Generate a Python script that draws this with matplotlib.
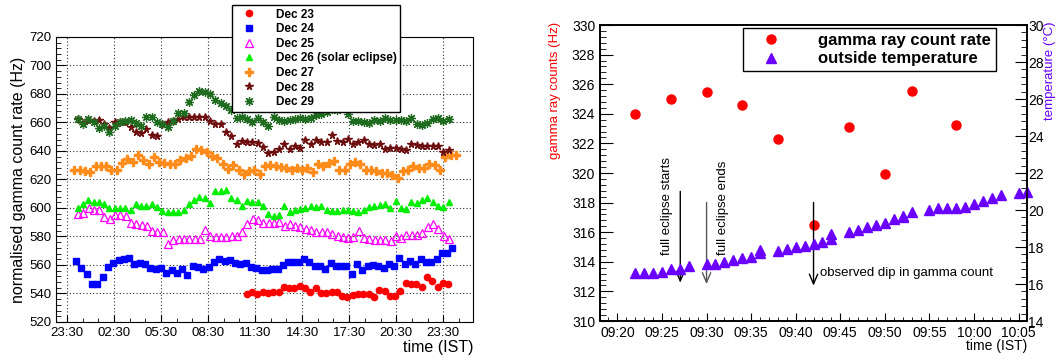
import numpy as np
import matplotlib
matplotlib.use("Agg")
import matplotlib.pyplot as plt
from matplotlib.ticker import MultipleLocator, FuncFormatter

plt.rcParams['font.family'] = ['Liberation Sans', 'DejaVu Sans']

# ---- left panel data: normalised gamma count rate (Hz), ~20 min bins
STEP = 0.338  # hours per bin
dec23_start = 10.97
dec23 = [539.9, 541.0, 539.4, 541.0, 540.6, 541.0, 541.3, 544.6, 544.1, 544.1,
         545.0, 544.1, 541.0, 544.1, 540.4, 540.4, 540.8, 541.0, 538.2, 537.5,
         538.7, 539.9, 539.4, 539.4, 537.5, 542.7, 541.7, 538.2, 538.2, 541.7,
         547.6, 546.9, 546.7, 544.6, 551.6, 548.5, 544.6, 547.4, 546.9]
dec24_start = 0.09
dec24 = [562.6, 557.9, 553.7, 546.9, 546.7, 551.6, 558.6, 561.6, 563.3, 564.0,
         565.1, 560.5, 561.4, 560.9, 557.9, 557.2, 558.1, 554.4, 556.7, 554.4,
         556.9, 553.2, 559.3, 558.6, 556.9, 558.6, 561.9, 564.2, 562.8, 563.3,
         561.6, 560.5, 561.6, 558.6, 557.9, 556.7, 556.7, 557.2, 557.2, 559.8,
         561.9, 561.9, 561.9, 564.4, 562.1, 559.3, 559.1, 557.2, 561.4, 559.5,
         559.5, 559.5, 553.4, 560.7, 556.3, 559.1, 560.2, 559.5, 558.1, 560.9,
         559.5, 564.9, 560.9, 563.0, 560.9, 564.2, 561.9, 561.9, 564.2, 568.2,
         568.2, 572.2]
dec25_start = 0.2
dec25 = [596.0, 596.5, 599.8, 598.8, 598.4, 593.7, 592.3, 594.9, 594.9, 594.4,
         589.5, 588.5, 587.8, 587.1, 583.9, 583.4, 582.9, 575.0, 577.8, 578.5,
         578.2, 578.5, 578.2, 578.2, 584.3, 580.1, 579.6, 579.6, 579.6, 580.6,
         580.6, 583.2, 589.0, 592.5, 591.3, 589.5, 589.5, 589.5, 590.2, 587.6,
         589.0, 587.6, 586.7, 585.3, 584.8, 583.4, 582.9, 582.9, 582.0, 580.6,
         579.6, 578.9, 579.6, 583.6, 579.2, 578.0, 577.3, 577.3, 577.3, 576.8,
         580.1, 579.2, 580.8, 580.8, 580.8, 582.7, 586.7, 589.0, 585.5, 580.1,
         578.5]
dec26_start = 0.18
dec26 = [600.2, 603.0, 605.4, 604.0, 604.4, 602.6, 600.2, 599.8, 599.8, 599.8,
         598.8, 602.6, 601.2, 601.2, 603.0, 600.7, 597.9, 597.0, 597.0, 597.0,
         598.8, 602.6, 605.4, 607.7, 606.8, 603.5, 611.9, 611.9, 612.4, 607.3,
         605.8, 601.2, 604.7, 604.4, 604.2, 601.2, 595.6, 594.6, 594.9, 601.6,
         597.4, 598.8, 599.3, 599.8, 601.2, 600.7, 601.6, 598.8, 597.9, 597.9,
         598.4, 598.8, 597.9, 597.4, 598.8, 600.5, 601.6, 602.1, 602.6, 599.8,
         604.9, 600.2, 599.3, 604.4, 603.5, 605.8, 606.8, 604.4, 601.6, 600.7,
         604.4]
dec27_start = -0.03
dec27 = [626.9, 626.9, 626.0, 625.5, 629.2, 629.7, 629.2, 626.9, 626.4, 631.6,
         634.6, 632.5, 637.2, 633.5, 631.1, 635.8, 632.0, 631.6, 630.6, 630.6,
         633.5, 634.9, 636.7, 641.4, 640.5, 639.5, 636.7, 634.9, 631.1, 627.4,
         630.2, 626.9, 624.1, 626.0, 626.9, 624.1, 629.2, 630.2, 629.2, 628.8,
         627.8, 626.4, 628.3, 626.4, 627.8, 625.5, 630.6, 629.2, 631.6, 633.0,
         626.9, 626.9, 631.1, 632.0, 630.6, 626.9, 626.9, 626.0, 624.6, 624.6,
         623.2, 620.8, 626.0, 626.9, 629.7, 628.3, 628.3, 631.1, 630.2, 626.9,
         635.8, 637.2, 637.2]
dec28_start = 0.18
dec28 = [662.7, 659.6, 662.0, 661.1, 661.5, 658.7, 655.9, 660.1, 660.1, 660.6,
         656.8, 653.1, 652.6, 655.4, 651.2, 650.3, 659.2, 660.6, 661.1, 662.5,
         663.9, 663.9, 663.9, 663.9, 663.9, 661.1, 658.7, 659.2, 653.1, 650.3,
         644.7, 647.0, 646.6, 646.6, 645.6, 642.8, 638.6, 639.5, 641.4, 645.1,
         641.4, 643.7, 641.9, 647.5, 644.7, 647.5, 646.1, 646.1, 651.2, 647.0,
         646.6, 648.4, 645.1, 646.6, 648.0, 644.7, 644.2, 644.7, 641.4, 641.9,
         641.9, 641.4, 640.9, 645.1, 644.2, 643.7, 643.3, 643.3, 643.3, 639.1,
         640.9]
dec29_start = 0.18
dec29 = [662.5, 658.7, 662.5, 660.1, 656.4, 657.3, 653.6, 657.8, 660.6, 661.1,
         662.0, 659.6, 657.8, 663.9, 663.9, 660.6, 658.7, 656.8, 661.1, 666.7,
         666.7, 674.2, 679.3, 682.1, 681.2, 680.2, 676.0, 673.7, 671.3, 668.5,
         663.4, 663.9, 662.5, 660.1, 662.9, 660.6, 657.3, 663.9, 661.5, 661.1,
         662.0, 662.5, 663.4, 662.5, 662.9, 665.3, 665.7, 667.6, 669.5, 668.5,
         670.0, 666.2, 661.1, 661.1, 660.1, 659.6, 662.0, 661.1, 662.9, 662.0,
         661.5, 661.5, 661.1, 663.4, 659.2, 658.2, 659.6, 662.5, 662.9, 661.1,
         662.5]

# ---- right panel data: minutes after 09:00
gamma_min = [22, 26, 30, 34, 38, 42, 46, 50, 53, 58]
gamma_rate = [324.0, 325.0, 325.47, 324.62, 322.27, 316.49, 323.11, 319.91, 325.56, 323.22]
temp_min = [22, 23, 24, 25, 26, 27, 28, 30, 31, 32, 33, 34, 35, 36, 36, 38, 39, 40,
            41, 42, 43, 44, 44, 46, 47, 48, 49, 50, 51, 52, 52, 53, 55, 56, 57, 58,
            59, 60, 61, 62, 63, 65, 66]
temp_c = [16.58, 16.61, 16.58, 16.67, 16.79, 16.79, 16.97, 17.08, 17.08, 17.19,
          17.30, 17.39, 17.48, 17.70, 17.82, 17.78, 17.91, 18.02, 18.07, 18.14,
          18.29, 18.41, 18.68, 18.79, 18.92, 19.10, 19.19, 19.32, 19.50, 19.60,
          19.68, 19.89, 20.00, 20.09, 20.09, 20.09, 20.18, 20.30, 20.49, 20.63,
          20.81, 20.90, 20.95]

series = [
    ("Dec 23", dec23_start, dec23, dict(marker='o', color='#ff0000', ms=4.5)),
    ("Dec 24", dec24_start, dec24, dict(marker='s', color='#0000ff', ms=4)),
    ("Dec 25", dec25_start, dec25, dict(marker='^', color='#ff00ff', ms=5.5, mfc='none', mew=0.9)),
    ("Dec 26 (solar eclipse)", dec26_start, dec26, dict(marker='^', color='#00ee00', ms=5)),
    ("Dec 27", dec27_start, dec27, dict(marker='P', color='#ff8c1a', ms=5.5)),
    ("Dec 28", dec28_start, dec28, dict(marker='*', color='#6e0f0f', ms=5.5)),
    ("Dec 29", dec29_start, dec29, dict(marker=(8, 2, 0), color='#1f6b1f', ms=6.5, mew=0.9)),
]

fig = plt.figure(figsize=(10.62, 3.6), dpi=100)

# ---------------- left panel
ax = fig.add_axes([0.0527, 0.1056, 0.3927, 0.7917])
for name, t0, vals, st in series:
    t = t0 + STEP * np.arange(len(vals))
    ax.plot(t, vals, linestyle='none', label=name, **st)

ax.set_xlim(-1.2, 25.4)
ax.set_ylim(520, 720)
ax.xaxis.set_major_locator(MultipleLocator(3, offset=-0.5))
ax.xaxis.set_minor_locator(MultipleLocator(1, offset=-0.5))
ax.xaxis.set_major_formatter(FuncFormatter(lambda v, p: "%02d:30" % (int(np.floor(v)) % 24)))
ax.yaxis.set_major_locator(MultipleLocator(20))
ax.yaxis.set_minor_locator(MultipleLocator(4))
ax.tick_params(which='both', direction='in', labelsize=9.5, top=False, right=False)
ax.tick_params(which='major', length=7)
ax.tick_params(which='minor', length=3.5)
ax.tick_params(axis='x', which='major', length=5)
ax.tick_params(axis='x', which='minor', length=3)
ax.grid(True, which='major', linestyle=(0, (1, 2)), color='#333333', linewidth=0.8)
ax.set_ylabel("normalised gamma count rate (Hz)", fontsize=11.5, labelpad=2)
ax.text(1.0, -0.062, "time (IST)", transform=ax.transAxes, ha='right', va='top', fontsize=11.5)

leg = ax.legend(loc='upper left', bbox_to_anchor=(0.2185, 0.986), bbox_transform=fig.transFigure,
                prop={'weight': 'bold', 'size': 8.5}, frameon=True, fancybox=False,
                edgecolor='black', framealpha=1, handletextpad=1.2, labelspacing=0.22,
                borderpad=0.3, handlelength=2.2, borderaxespad=0)
leg.get_frame().set_linewidth(1.0)

# ---------------- right panel
ax2 = fig.add_axes([0.565, 0.1083, 0.402, 0.8222])
ax3 = ax2.twinx()
l1, = ax2.plot(gamma_min, gamma_rate, 'o', color='#ff0000', ms=6.5, label='gamma ray count rate')
l2, = ax3.plot(temp_min, temp_c, '^', color='#6a00ff', ms=6.5, label='outside temperature', clip_on=False)
ax2.set_xlim(18.05, 65.94)
ax2.set_ylim(310, 330)
ax3.set_ylim(14, 30)
ax2.xaxis.set_major_locator(MultipleLocator(5))
ax2.xaxis.set_minor_locator(MultipleLocator(1))
ax2.xaxis.set_major_formatter(FuncFormatter(lambda v, p: "%02d:%02d" % (9 + int(v) // 60, int(v) % 60)))
ax2.yaxis.set_major_locator(MultipleLocator(2))
ax2.yaxis.set_minor_locator(MultipleLocator(0.4))
ax3.yaxis.set_major_locator(MultipleLocator(2))
ax3.yaxis.set_minor_locator(MultipleLocator(0.4))
ax2.tick_params(which='both', direction='in', labelsize=10, top=False, right=False)
ax3.tick_params(which='both', direction='in', labelsize=10, pad=1)
for a in (ax2, ax3):
    a.tick_params(axis='y', which='major', length=9)
    a.tick_params(axis='y', which='minor', length=4.5)
    for s in a.spines.values():
        s.set_linewidth(1.2)
ax2.tick_params(axis='x', which='major', length=5.5)
ax2.tick_params(axis='x', which='minor', length=3)

ax2.text(1.0, -0.062, "time (IST)", transform=ax2.transAxes, ha='right', va='top', fontsize=10)
fig.text(555 / 1062, 1 - 22 / 360, "gamma ray counts (Hz)", color='#ff0000', rotation=90,
         ha='center', va='top', fontsize=9.5)
fig.text(1050 / 1062, 1 - 22 / 360, "temperature (\u00b0C)", color='#6a00ff', rotation=90,
         ha='center', va='top', fontsize=9.5)

# arrows and notes
arrow = dict(arrowstyle='->,head_length=0.7,head_width=0.3', color='black', lw=1.0)
ax2.annotate("", xy=(27.05, 312.4), xytext=(27.05, 318.95), arrowprops=arrow)
ax2.annotate("", xy=(30.0, 312.3), xytext=(30.0, 318.2),
             arrowprops=dict(arrow, color='#555555'))
ax2.annotate("", xy=(42.0, 312.2), xytext=(42.0, 318.2), arrowprops=arrow)
ax2.text(25.55, 314.45, "full eclipse starts", rotation=90, ha='center', va='bottom', fontsize=9.5)
ax2.text(31.85, 314.45, "full eclipse ends", rotation=90, ha='center', va='bottom', fontsize=9.5)
ax2.text(42.7, 313.22, "observed dip in gamma count", ha='left', va='center', fontsize=9.5)

leg2 = ax2.legend([l1, l2], ['gamma ray count rate', 'outside temperature'],
                  loc='upper left', bbox_to_anchor=(0.6996, 0.9222), bbox_transform=fig.transFigure,
                  prop={'weight': 'bold', 'size': 12}, frameon=True, fancybox=False,
                  edgecolor='black', framealpha=1, handletextpad=1.4, labelspacing=0.2,
                  borderpad=0.3, handlelength=2.8, borderaxespad=0)
leg2.get_frame().set_linewidth(1.0)
leg2.set_zorder(10)

fig.savefig("out.png", dpi=100)
